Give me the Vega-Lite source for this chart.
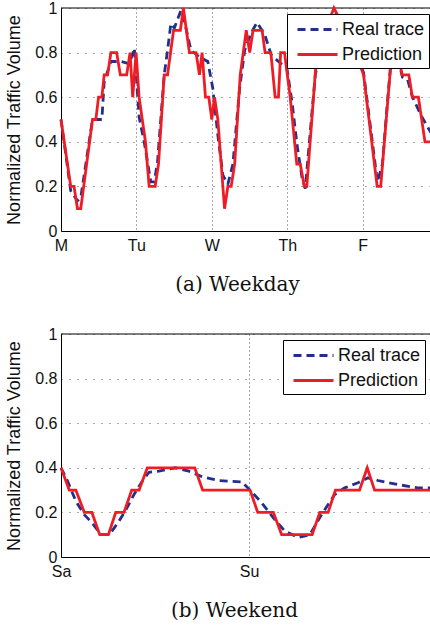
{
  "$schema": "https://vega.github.io/schema/vega-lite/v6.json",
  "padding": {"left": 5, "top": 0, "right": 0, "bottom": 0},
  "spacing": 32,
  "background": "white",
  "config": {
    "font": "Liberation Sans",
    "view": {"stroke": null},
    "axis": {
      "labelFont": "Liberation Sans",
      "labelFontSize": 16,
      "labelColor": "#111",
      "titleFont": "Liberation Sans",
      "titleFontWeight": "normal",
      "titleColor": "#111",
      "domainColor": "#000",
      "domainWidth": 1,
      "ticks": false,
      "grid": true,
      "gridColor": "#555",
      "gridOpacity": 1,
      "gridWidth": 1,
      "labelFlush": false,
      "labelOverlap": false
    },
    "legend": {
      "orient": "none",
      "fillColor": "white",
      "strokeColor": "black",
      "strokeWidth": 1,
      "padding": 4,
      "labelFont": "Liberation Sans",
      "labelFontSize": 18,
      "labelColor": "#111",
      "symbolType": "M-2,0H2",
      "symbolSize": 400,
      "symbolOffset": 15,
      "symbolStrokeWidth": 2.8,
      "rowPadding": 4,
      "labelOffset": 13
    }
  },
  "resolve": {"scale": {"color": "independent", "strokeDash": "independent"}, "legend": {"color": "independent", "strokeDash": "independent"}},
  "datasets": {
    "weekday": [
      {"t": 0, "v": 0.5, "series": "Real trace"},
      {"t": 0.129, "v": 0.18, "series": "Real trace"},
      {"t": 0.218, "v": 0.135, "series": "Real trace"},
      {"t": 0.262, "v": 0.15, "series": "Real trace"},
      {"t": 0.418, "v": 0.5, "series": "Real trace"},
      {"t": 0.542, "v": 0.5, "series": "Real trace"},
      {"t": 0.573, "v": 0.67, "series": "Real trace"},
      {"t": 0.662, "v": 0.76, "series": "Real trace"},
      {"t": 0.796, "v": 0.76, "series": "Real trace"},
      {"t": 0.907, "v": 0.75, "series": "Real trace"},
      {"t": 0.973, "v": 0.82, "series": "Real trace"},
      {"t": 1.036, "v": 0.51, "series": "Real trace"},
      {"t": 1.103, "v": 0.4, "series": "Real trace"},
      {"t": 1.191, "v": 0.22, "series": "Real trace"},
      {"t": 1.236, "v": 0.22, "series": "Real trace"},
      {"t": 1.28, "v": 0.31, "series": "Real trace"},
      {"t": 1.369, "v": 0.7, "series": "Real trace"},
      {"t": 1.413, "v": 0.81, "series": "Real trace"},
      {"t": 1.457, "v": 0.93, "series": "Real trace"},
      {"t": 1.503, "v": 0.91, "series": "Real trace"},
      {"t": 1.591, "v": 0.99, "series": "Real trace"},
      {"t": 1.657, "v": 0.91, "series": "Real trace"},
      {"t": 1.724, "v": 0.81, "series": "Real trace"},
      {"t": 1.836, "v": 0.78, "series": "Real trace"},
      {"t": 1.947, "v": 0.76, "series": "Real trace"},
      {"t": 2.013, "v": 0.64, "series": "Real trace"},
      {"t": 2.08, "v": 0.43, "series": "Real trace"},
      {"t": 2.147, "v": 0.25, "series": "Real trace"},
      {"t": 2.213, "v": 0.21, "series": "Real trace"},
      {"t": 2.28, "v": 0.3, "series": "Real trace"},
      {"t": 2.369, "v": 0.64, "series": "Real trace"},
      {"t": 2.436, "v": 0.81, "series": "Real trace"},
      {"t": 2.524, "v": 0.89, "series": "Real trace"},
      {"t": 2.6, "v": 0.935, "series": "Real trace"},
      {"t": 2.703, "v": 0.88, "series": "Real trace"},
      {"t": 2.787, "v": 0.79, "series": "Real trace"},
      {"t": 2.884, "v": 0.76, "series": "Real trace"},
      {"t": 2.996, "v": 0.73, "series": "Real trace"},
      {"t": 3.063, "v": 0.58, "series": "Real trace"},
      {"t": 3.129, "v": 0.39, "series": "Real trace"},
      {"t": 3.196, "v": 0.24, "series": "Real trace"},
      {"t": 3.24, "v": 0.19, "series": "Real trace"},
      {"t": 3.307, "v": 0.45, "series": "Real trace"},
      {"t": 3.373, "v": 0.7, "series": "Real trace"},
      {"t": 3.507, "v": 0.93, "series": "Real trace"},
      {"t": 3.64, "v": 0.97, "series": "Real trace"},
      {"t": 3.84, "v": 0.85, "series": "Real trace"},
      {"t": 4.013, "v": 0.71, "series": "Real trace"},
      {"t": 4.196, "v": 0.22, "series": "Real trace"},
      {"t": 4.263, "v": 0.3, "series": "Real trace"},
      {"t": 4.329, "v": 0.58, "series": "Real trace"},
      {"t": 4.387, "v": 0.8, "series": "Real trace"},
      {"t": 4.44, "v": 0.82, "series": "Real trace"},
      {"t": 4.484, "v": 0.75, "series": "Real trace"},
      {"t": 4.529, "v": 0.69, "series": "Real trace"},
      {"t": 4.596, "v": 0.68, "series": "Real trace"},
      {"t": 4.662, "v": 0.6, "series": "Real trace"},
      {"t": 4.773, "v": 0.52, "series": "Real trace"},
      {"t": 4.907, "v": 0.44, "series": "Real trace"},
      {"t": 0, "v": 0.5, "series": "Prediction"},
      {"t": 0.129, "v": 0.2, "series": "Prediction"},
      {"t": 0.173, "v": 0.2, "series": "Prediction"},
      {"t": 0.218, "v": 0.1, "series": "Prediction"},
      {"t": 0.262, "v": 0.1, "series": "Prediction"},
      {"t": 0.418, "v": 0.5, "series": "Prediction"},
      {"t": 0.462, "v": 0.5, "series": "Prediction"},
      {"t": 0.498, "v": 0.6, "series": "Prediction"},
      {"t": 0.542, "v": 0.6, "series": "Prediction"},
      {"t": 0.573, "v": 0.7, "series": "Prediction"},
      {"t": 0.618, "v": 0.7, "series": "Prediction"},
      {"t": 0.662, "v": 0.8, "series": "Prediction"},
      {"t": 0.738, "v": 0.8, "series": "Prediction"},
      {"t": 0.787, "v": 0.7, "series": "Prediction"},
      {"t": 0.871, "v": 0.7, "series": "Prediction"},
      {"t": 0.916, "v": 0.8, "series": "Prediction"},
      {"t": 0.951, "v": 0.6, "series": "Prediction"},
      {"t": 0.996, "v": 0.8, "series": "Prediction"},
      {"t": 1.036, "v": 0.6, "series": "Prediction"},
      {"t": 1.12, "v": 0.4, "series": "Prediction"},
      {"t": 1.169, "v": 0.2, "series": "Prediction"},
      {"t": 1.249, "v": 0.2, "series": "Prediction"},
      {"t": 1.293, "v": 0.3, "series": "Prediction"},
      {"t": 1.369, "v": 0.7, "series": "Prediction"},
      {"t": 1.413, "v": 0.7, "series": "Prediction"},
      {"t": 1.493, "v": 0.9, "series": "Prediction"},
      {"t": 1.583, "v": 0.9, "series": "Prediction"},
      {"t": 1.623, "v": 1.0, "series": "Prediction"},
      {"t": 1.703, "v": 0.8, "series": "Prediction"},
      {"t": 1.791, "v": 0.8, "series": "Prediction"},
      {"t": 1.836, "v": 0.7, "series": "Prediction"},
      {"t": 1.871, "v": 0.8, "series": "Prediction"},
      {"t": 1.916, "v": 0.6, "series": "Prediction"},
      {"t": 1.96, "v": 0.6, "series": "Prediction"},
      {"t": 2.0, "v": 0.5, "series": "Prediction"},
      {"t": 2.036, "v": 0.6, "series": "Prediction"},
      {"t": 2.08, "v": 0.5, "series": "Prediction"},
      {"t": 2.169, "v": 0.1, "series": "Prediction"},
      {"t": 2.213, "v": 0.2, "series": "Prediction"},
      {"t": 2.257, "v": 0.2, "series": "Prediction"},
      {"t": 2.303, "v": 0.3, "series": "Prediction"},
      {"t": 2.377, "v": 0.7, "series": "Prediction"},
      {"t": 2.457, "v": 0.9, "series": "Prediction"},
      {"t": 2.503, "v": 0.8, "series": "Prediction"},
      {"t": 2.547, "v": 0.9, "series": "Prediction"},
      {"t": 2.667, "v": 0.9, "series": "Prediction"},
      {"t": 2.707, "v": 0.8, "series": "Prediction"},
      {"t": 2.783, "v": 0.8, "series": "Prediction"},
      {"t": 2.84, "v": 0.6, "series": "Prediction"},
      {"t": 2.884, "v": 0.6, "series": "Prediction"},
      {"t": 2.913, "v": 0.8, "series": "Prediction"},
      {"t": 2.964, "v": 0.8, "series": "Prediction"},
      {"t": 3.04, "v": 0.6, "series": "Prediction"},
      {"t": 3.127, "v": 0.3, "series": "Prediction"},
      {"t": 3.173, "v": 0.3, "series": "Prediction"},
      {"t": 3.227, "v": 0.2, "series": "Prediction"},
      {"t": 3.26, "v": 0.2, "series": "Prediction"},
      {"t": 3.393, "v": 0.8, "series": "Prediction"},
      {"t": 3.507, "v": 0.9, "series": "Prediction"},
      {"t": 3.62, "v": 1.0, "series": "Prediction"},
      {"t": 3.773, "v": 0.9, "series": "Prediction"},
      {"t": 3.907, "v": 0.8, "series": "Prediction"},
      {"t": 4.013, "v": 0.7, "series": "Prediction"},
      {"t": 4.193, "v": 0.2, "series": "Prediction"},
      {"t": 4.24, "v": 0.2, "series": "Prediction"},
      {"t": 4.387, "v": 0.8, "series": "Prediction"},
      {"t": 4.427, "v": 0.9, "series": "Prediction"},
      {"t": 4.467, "v": 0.8, "series": "Prediction"},
      {"t": 4.524, "v": 0.7, "series": "Prediction"},
      {"t": 4.613, "v": 0.7, "series": "Prediction"},
      {"t": 4.66, "v": 0.6, "series": "Prediction"},
      {"t": 4.74, "v": 0.6, "series": "Prediction"},
      {"t": 4.827, "v": 0.4, "series": "Prediction"},
      {"t": 4.907, "v": 0.4, "series": "Prediction"}
    ],
    "weekend": [
      {"t": 0, "v": 0.4, "series": "Real trace"},
      {"t": 0.035, "v": 0.34, "series": "Real trace"},
      {"t": 0.079, "v": 0.25, "series": "Real trace"},
      {"t": 0.124, "v": 0.19, "series": "Real trace"},
      {"t": 0.168, "v": 0.15, "series": "Real trace"},
      {"t": 0.212, "v": 0.1, "series": "Real trace"},
      {"t": 0.256, "v": 0.1, "series": "Real trace"},
      {"t": 0.3, "v": 0.15, "series": "Real trace"},
      {"t": 0.344, "v": 0.21, "series": "Real trace"},
      {"t": 0.388, "v": 0.28, "series": "Real trace"},
      {"t": 0.432, "v": 0.34, "series": "Real trace"},
      {"t": 0.468, "v": 0.38, "series": "Real trace"},
      {"t": 0.521, "v": 0.385, "series": "Real trace"},
      {"t": 0.608, "v": 0.4, "series": "Real trace"},
      {"t": 0.679, "v": 0.385, "series": "Real trace"},
      {"t": 0.75, "v": 0.36, "series": "Real trace"},
      {"t": 0.838, "v": 0.343, "series": "Real trace"},
      {"t": 0.961, "v": 0.337, "series": "Real trace"},
      {"t": 1.005, "v": 0.3, "series": "Real trace"},
      {"t": 1.067, "v": 0.243, "series": "Real trace"},
      {"t": 1.129, "v": 0.176, "series": "Real trace"},
      {"t": 1.19, "v": 0.116, "series": "Real trace"},
      {"t": 1.261, "v": 0.087, "series": "Real trace"},
      {"t": 1.323, "v": 0.1, "series": "Real trace"},
      {"t": 1.385, "v": 0.19, "series": "Real trace"},
      {"t": 1.455, "v": 0.28, "series": "Real trace"},
      {"t": 1.508, "v": 0.31, "series": "Real trace"},
      {"t": 1.579, "v": 0.333, "series": "Real trace"},
      {"t": 1.632, "v": 0.355, "series": "Real trace"},
      {"t": 1.685, "v": 0.343, "series": "Real trace"},
      {"t": 1.79, "v": 0.325, "series": "Real trace"},
      {"t": 1.896, "v": 0.31, "series": "Real trace"},
      {"t": 1.967, "v": 0.31, "series": "Real trace"},
      {"t": 0, "v": 0.4, "series": "Prediction"},
      {"t": 0.044, "v": 0.3, "series": "Prediction"},
      {"t": 0.079, "v": 0.3, "series": "Prediction"},
      {"t": 0.124, "v": 0.2, "series": "Prediction"},
      {"t": 0.164, "v": 0.2, "series": "Prediction"},
      {"t": 0.206, "v": 0.1, "series": "Prediction"},
      {"t": 0.252, "v": 0.1, "series": "Prediction"},
      {"t": 0.291, "v": 0.2, "series": "Prediction"},
      {"t": 0.335, "v": 0.2, "series": "Prediction"},
      {"t": 0.376, "v": 0.3, "series": "Prediction"},
      {"t": 0.415, "v": 0.3, "series": "Prediction"},
      {"t": 0.459, "v": 0.4, "series": "Prediction"},
      {"t": 0.711, "v": 0.4, "series": "Prediction"},
      {"t": 0.753, "v": 0.3, "series": "Prediction"},
      {"t": 1.005, "v": 0.3, "series": "Prediction"},
      {"t": 1.046, "v": 0.2, "series": "Prediction"},
      {"t": 1.129, "v": 0.2, "series": "Prediction"},
      {"t": 1.173, "v": 0.1, "series": "Prediction"},
      {"t": 1.335, "v": 0.1, "series": "Prediction"},
      {"t": 1.376, "v": 0.2, "series": "Prediction"},
      {"t": 1.42, "v": 0.2, "series": "Prediction"},
      {"t": 1.459, "v": 0.3, "series": "Prediction"},
      {"t": 1.587, "v": 0.3, "series": "Prediction"},
      {"t": 1.628, "v": 0.4, "series": "Prediction"},
      {"t": 1.667, "v": 0.3, "series": "Prediction"},
      {"t": 1.967, "v": 0.3, "series": "Prediction"}
    ]
  },
  "vconcat": [
    {
      "width": 370,
      "height": 223,
      "layer": [
        {
          "data": {"values": [{"k": 1}]},
          "mark": {"type": "rule", "color": "black", "strokeWidth": 1},
          "encoding": {"y": {"datum": 1, "type": "quantitative"}}
        },
        {
          "data": {"name": "weekday"},
          "transform": [{"filter": "datum.series === 'Real trace'"}],
          "mark": {"type": "line", "strokeWidth": 2.8},
          "encoding": {
            "x": {"field": "t", "type": "quantitative", "scale": {"domain": [0, 4.907], "nice": false, "zero": false},
              "axis": {"values": [0, 1, 2, 3, 4], "labelExpr": "['M','Tu','W','Th','F'][datum.value]", "labelPadding": 6,
                "title": "(a) Weekday", "titleFont": "DejaVu Serif", "titleFontSize": 20, "titleX": 176, "titleY": 43, "titleBaseline": "top", "titleAlign": "center", "gridDash": [1, 3]}},
            "y": {"field": "v", "type": "quantitative", "scale": {"domain": [0, 1], "nice": false},
              "axis": {"values": [0, 0.2, 0.4, 0.6, 0.8, 1], "format": ".1~f", "labelPadding": 4, "title": "Normalized Traffic Volume", "titleFontSize": 18, "titlePadding": 11, "gridDash": [1, 7]}},
            "color": {"field": "series", "type": "nominal", "scale": {"domain": ["Real trace", "Prediction"], "range": ["#232f8c", "#ee1c25"]}, "legend": {"title": null, "legendX": 226, "legendY": 6}},
            "strokeDash": {"field": "series", "type": "nominal", "scale": {"domain": ["Real trace", "Prediction"], "range": [[8, 5], [1, 0]]}, "legend": {"title": null, "legendX": 226, "legendY": 6}}
          }
        },
        {
          "data": {"name": "weekday"},
          "transform": [{"filter": "datum.series === 'Prediction'"}],
          "mark": {"type": "line", "strokeWidth": 2.8},
          "encoding": {
            "x": {"field": "t", "type": "quantitative"},
            "y": {"field": "v", "type": "quantitative"},
            "color": {"field": "series", "type": "nominal", "legend": {"title": null, "legendX": 226, "legendY": 6}},
            "strokeDash": {"field": "series", "type": "nominal", "legend": {"title": null, "legendX": 226, "legendY": 6}}
          }
        }
      ]
    },
    {
      "width": 370,
      "height": 223,
      "layer": [
        {
          "data": {"values": [{"k": 1}]},
          "mark": {"type": "rule", "color": "black", "strokeWidth": 1},
          "encoding": {"y": {"datum": 1, "type": "quantitative"}}
        },
        {
          "data": {"name": "weekend"},
          "transform": [{"filter": "datum.series === 'Real trace'"}],
          "mark": {"type": "line", "strokeWidth": 2.8},
          "encoding": {
            "x": {"field": "t", "type": "quantitative", "scale": {"domain": [0, 1.967], "nice": false, "zero": false},
              "axis": {"values": [0, 1], "labelExpr": "['Sa','Su'][datum.value]", "labelPadding": 6,
                "title": "(b) Weekend", "titleFont": "DejaVu Serif", "titleFontSize": 20, "titleX": 173, "titleY": 43, "titleBaseline": "top", "titleAlign": "center", "gridDash": [1, 3]}},
            "y": {"field": "v", "type": "quantitative", "scale": {"domain": [0, 1], "nice": false},
              "axis": {"values": [0, 0.2, 0.4, 0.6, 0.8, 1], "format": ".1~f", "labelPadding": 4, "title": "Normalized Traffic Volume", "titleFontSize": 18, "titlePadding": 11, "gridDash": [1, 7]}},
            "color": {"field": "series", "type": "nominal", "scale": {"domain": ["Real trace", "Prediction"], "range": ["#232f8c", "#ee1c25"]}, "legend": {"title": null, "legendX": 222, "legendY": 6}},
            "strokeDash": {"field": "series", "type": "nominal", "scale": {"domain": ["Real trace", "Prediction"], "range": [[8, 5], [1, 0]]}, "legend": {"title": null, "legendX": 222, "legendY": 6}}
          }
        },
        {
          "data": {"name": "weekend"},
          "transform": [{"filter": "datum.series === 'Prediction'"}],
          "mark": {"type": "line", "strokeWidth": 2.8},
          "encoding": {
            "x": {"field": "t", "type": "quantitative"},
            "y": {"field": "v", "type": "quantitative"},
            "color": {"field": "series", "type": "nominal", "legend": {"title": null, "legendX": 222, "legendY": 6}},
            "strokeDash": {"field": "series", "type": "nominal", "legend": {"title": null, "legendX": 222, "legendY": 6}}
          }
        }
      ]
    }
  ]
}
